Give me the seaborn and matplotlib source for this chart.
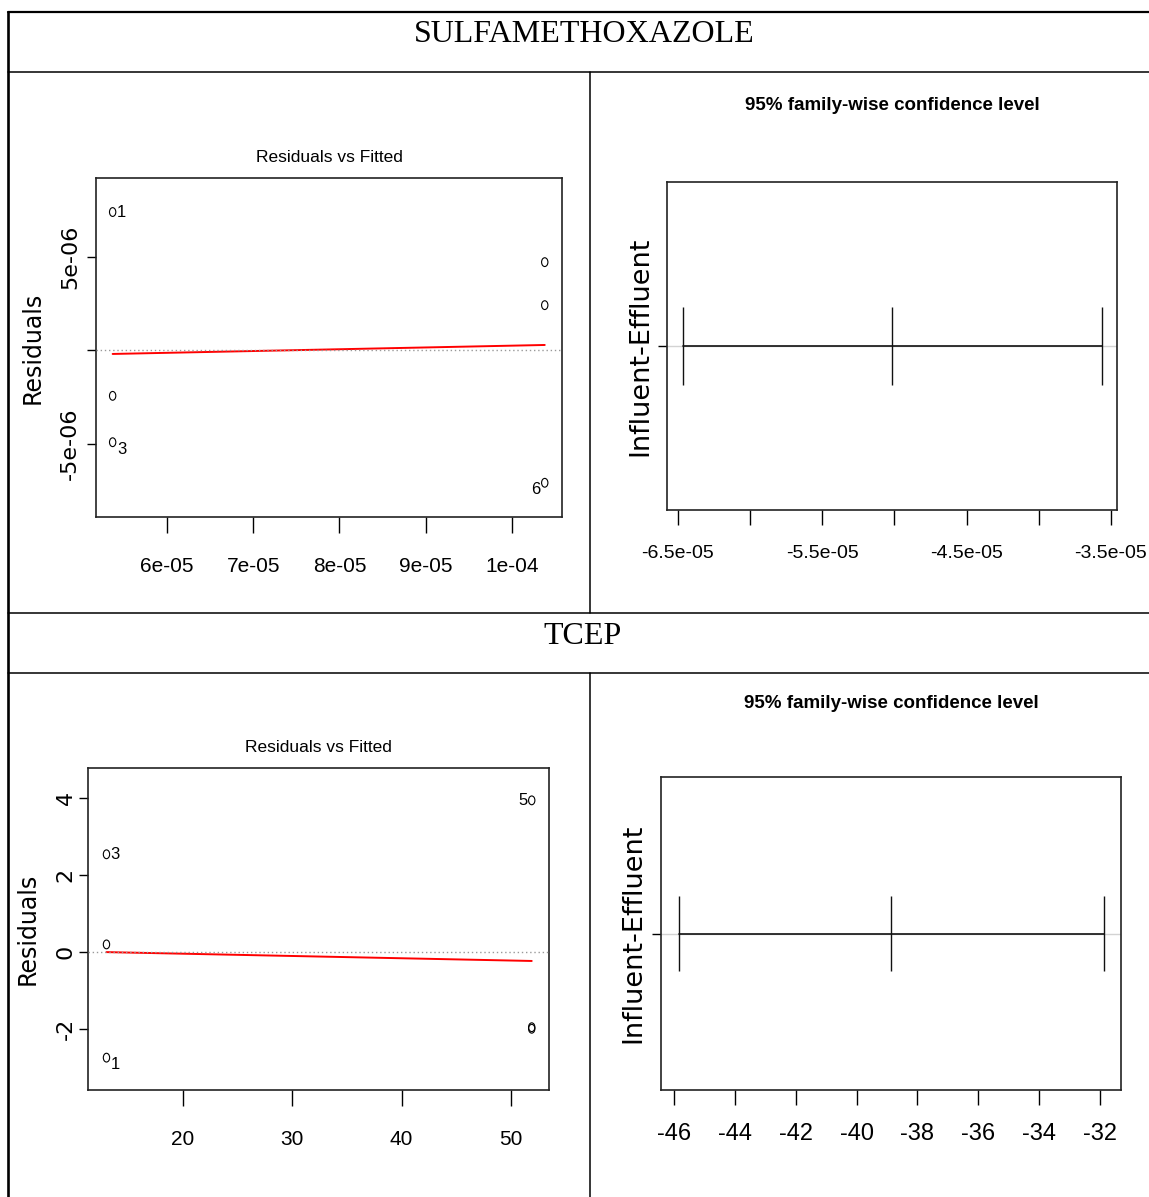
import matplotlib
matplotlib.use('Agg')
import matplotlib.pyplot as plt
from matplotlib.lines import Line2D
from matplotlib.path import Path
from matplotlib.transforms import Affine2D
import numpy as np
import seaborn as sns

sns.set_style('ticks')
plt.rcParams['font.family'] = ['Liberation Sans', 'DejaVu Sans']
plt.rcParams['text.color'] = 'black'
plt.rcParams['axes.labelcolor'] = 'black'
NARROW = ['Liberation Sans Narrow', 'Liberation Sans', 'DejaVu Sans']
WIDE = ['DejaVu Sans']

# SULFAMETHOXAZOLE: residuals vs fitted (obs 1..6)
sulfa_fitted = [5.37e-05, 5.37e-05, 5.37e-05, 1.038e-04, 1.038e-04, 1.038e-04]
sulfa_resid = [7.38e-06, -2.45e-06, -4.93e-06, 4.70e-06, 2.40e-06, -7.10e-06]
sulfa_smooth_x = [5.37e-05, 1.038e-04]
sulfa_smooth_y = [-0.21e-06, 0.27e-06]
# Tukey HSD Influent-Effluent: lwr, diff, upr
sulfa_ci = [-6.465e-05, -5.015e-05, -3.565e-05]

# TCEP
tcep_fitted = [13.0, 13.0, 13.0, 51.9, 51.9, 51.9]
tcep_resid = [-2.74, 0.20, 2.54, -1.95, 3.94, -1.99]
tcep_smooth_x = [13.0, 51.9]
tcep_smooth_y = [0.0, -0.23]
tcep_ci = [-45.84, -38.86, -31.88]

# оси и подписи делений
sulfa_res_xticks = [6e-05, 7e-05, 8e-05, 9e-05, 1e-04]
sulfa_res_xlabels = ['6e-05', '7e-05', '8e-05', '9e-05', '1e-04']
sulfa_res_yticks = [-5e-06, 0, 5e-06]
sulfa_res_ylabels = ['-5e-06', '', '5e-06']
sulfa_ci_xticks = [-6.5e-05, -6e-05, -5.5e-05, -5e-05, -4.5e-05, -4e-05, -3.5e-05]
sulfa_ci_xlabels = ['-6.5e-05', '', '-5.5e-05', '', '-4.5e-05', '', '-3.5e-05']
tcep_res_xticks = [20, 30, 40, 50]
tcep_res_yticks = [-2, 0, 2, 4]
tcep_ci_xticks = [-46, -44, -42, -40, -38, -36, -34, -32]

W, H = 1149, 1197
fig = plt.figure(figsize=(W / 100, H / 100), dpi=100)
fig.patch.set_facecolor('white')


def px_axes(x0, y0, x1, y1):
    return fig.add_axes([x0 / W, 1 - y1 / H, (x1 - x0) / W, (y1 - y0) / H])


def hline_px(y, x0, x1, lw):
    fig.add_artist(Line2D([x0 / W, x1 / W], [1 - y / H, 1 - y / H], color='black', lw=lw,
                          transform=fig.transFigure))


def vline_px(x, y0, y1, lw):
    fig.add_artist(Line2D([x / W, x / W], [1 - y0 / H, 1 - y1 / H], color='black', lw=lw,
                          transform=fig.transFigure))


def frame(ax):
    for sp in ax.spines.values():
        sp.set_visible(True)
        sp.set_color('#222222')
        sp.set_linewidth(1.2)


ellipse = Path.unit_circle().transformed(Affine2D().scale(0.72, 1.0))


def residual_panel(ax, fitted, resid, sx, sy, xlim, ylim, xticks, xlabels, yticks, ylabels,
                   xsize, xpad, ypad, title_y, label_dy, ylab_x):
    ax.axhline(0, color='#999999', lw=1.0, ls=(0, (1, 2)), zorder=3)
    sns.lineplot(x=sx, y=sy, ax=ax, color='red', lw=1.4, zorder=2)
    sns.scatterplot(x=fitted, y=resid, ax=ax, marker=ellipse, s=40, facecolor='none',
                    edgecolor='black', linewidth=0.8, zorder=4)
    # три самых больших остатка подписываем номером наблюдения
    order = np.argsort(np.abs(resid))[::-1][:3]
    mid = (min(fitted) + max(fitted)) / 2
    for i in order:
        right = fitted[i] < mid
        ax.annotate(str(i + 1), (fitted[i], resid[i]), xytext=(3 if right else -3, label_dy.get(i + 1, 0)),
                    textcoords='offset points', ha='left' if right else 'right', va='center',
                    fontsize=12, family=NARROW)
    ax.set_xlim(*xlim)
    ax.set_ylim(*ylim)
    ax.set_xticks(xticks, labels=xlabels, fontsize=xsize, family=NARROW)
    ax.set_yticks(yticks, labels=ylabels, fontsize=16, family=WIDE, rotation=90, va='center')
    ax.tick_params(axis='x', length=11.5, width=1, pad=xpad, colors='black')
    ax.tick_params(axis='y', length=6.5, width=1, pad=ypad, colors='black')
    ax.set_title('Residuals vs Fitted', fontsize=12.5, family=NARROW, y=title_y, va='center', pad=0)
    ax.set_ylabel('Residuals', fontsize=17, family=WIDE, va='center')
    ax.yaxis.set_label_coords(ylab_x, 0.5)
    ax.set_xlabel('')
    frame(ax)


def tukey_panel(ax, ci, xlim, xticks, xlabels, xsize, xpad, title_y, ylab_x):
    lwr, diff, upr = ci
    ax.axhline(1, color='#d3d3d3', lw=1.0, zorder=1)
    sns.lineplot(x=[lwr, upr], y=[1, 1], ax=ax, color='#111111', lw=1.2, zorder=2)
    ax.vlines(ci, 1 - 0.12, 1 + 0.12, color='#111111', lw=1.0, zorder=2)
    ax.set_xlim(*xlim)
    ax.set_ylim(0.5, 1.5)
    ax.set_xticks(xticks, labels=xlabels, fontsize=xsize, family=NARROW)
    ax.set_yticks([1], labels=[''])
    ax.tick_params(axis='x', length=11, width=1, pad=xpad, colors='black')
    ax.tick_params(axis='y', length=6.5, width=1, colors='black')
    ax.set_title('95% family-wise confidence level', fontsize=13.5, family=NARROW, weight='bold',
                 y=title_y, va='center', pad=0)
    ax.set_ylabel('Influent-Effluent', fontsize=19.5, family=WIDE, va='center')
    ax.yaxis.set_label_coords(ylab_x, 0.5)
    frame(ax)


# таблица вокруг графиков
hline_px(12, 8, W, 1.6)
vline_px(8, 12, H, 1.9)
hline_px(72, 8, W, 1.1)
vline_px(590, 72, 613, 1.1)
hline_px(613, 8, W, 1.1)
hline_px(673, 8, W, 1.1)
vline_px(590, 673, H, 1.1)
fig.text(584 / W, 1 - 34 / H, 'SULFAMETHOXAZOLE', ha='center', va='center',
         fontsize=23, family=['Liberation Serif', 'DejaVu Serif'])
fig.text(583 / W, 1 - 636 / H, 'TCEP', ha='center', va='center',
         fontsize=23, family=['Liberation Serif', 'DejaVu Serif'])

ax1 = px_axes(96, 178, 562, 517)
residual_panel(ax1, sulfa_fitted, sulfa_resid, sulfa_smooth_x, sulfa_smooth_y,
               (5.177e-05, 1.058e-04), (-8.93e-06, 9.2e-06),
               sulfa_res_xticks, sulfa_res_xlabels, sulfa_res_yticks, sulfa_res_ylabels,
               xsize=15, xpad=17, ypad=5, title_y=1 + 21 / 339, label_dy={3: -5, 6: -5},
               ylab_x=(33 - 96) / 466)

ax2 = px_axes(667, 182, 1117, 510)
tukey_panel(ax2, sulfa_ci, (-6.576e-05, -3.458e-05), sulfa_ci_xticks, sulfa_ci_xlabels,
            xsize=14, xpad=14, title_y=1 + 76 / 328, ylab_x=(640 - 667) / 450)

ax3 = px_axes(88, 768, 549, 1090)
residual_panel(ax3, tcep_fitted, tcep_resid, tcep_smooth_x, tcep_smooth_y,
               (11.31, 53.48), (-3.58, 4.78),
               tcep_res_xticks, [str(t) for t in tcep_res_xticks],
               tcep_res_yticks, [str(t) for t in tcep_res_yticks],
               xsize=15, xpad=17, ypad=2.5, title_y=1 + 20 / 322, label_dy={1: -5},
               ylab_x=(28 - 88) / 461)

ax4 = px_axes(661, 777, 1121, 1090)
tukey_panel(ax4, tcep_ci, (-46.43, -31.31), tcep_ci_xticks, [str(t) for t in tcep_ci_xticks],
            xsize=17, xpad=13, title_y=1 + 74 / 313, ylab_x=(633 - 661) / 460)

fig.savefig('out.png', dpi=100, facecolor='white')
